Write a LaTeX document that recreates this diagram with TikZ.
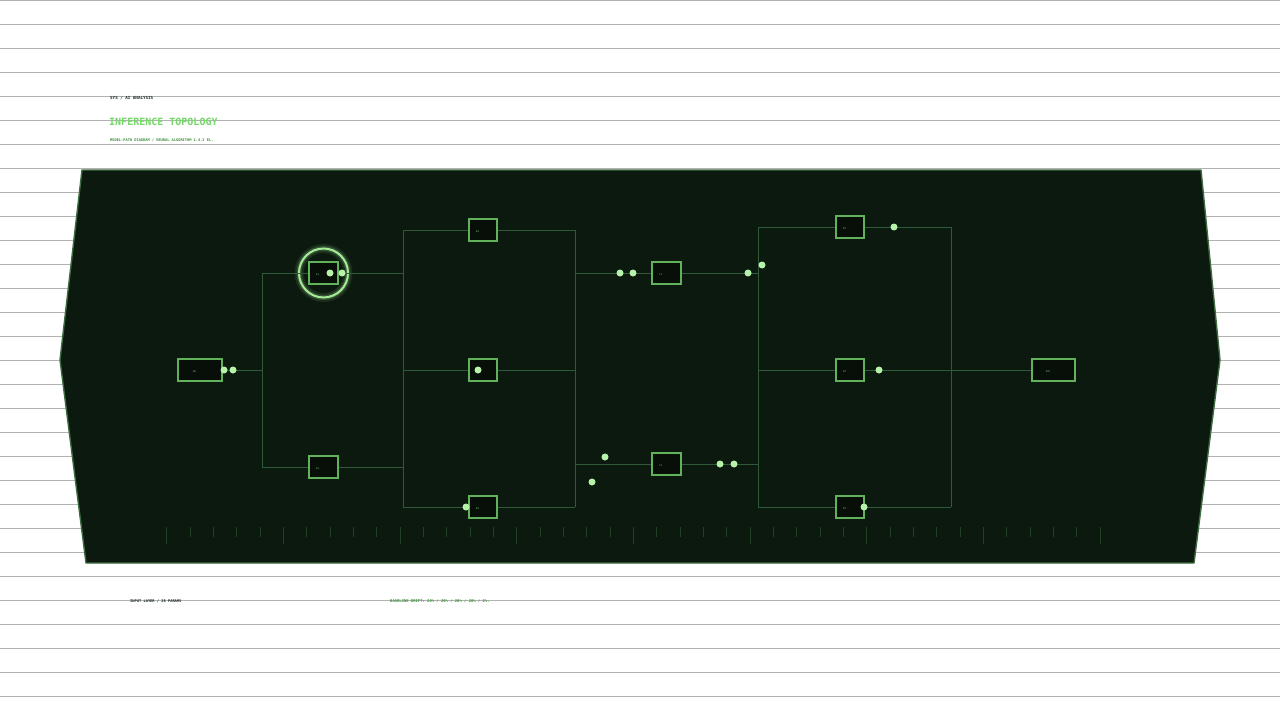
\documentclass[tikz,border=0pt]{standalone}
\usepackage{fontspec}
\setmonofont{DejaVu Sans Mono}
\begin{document}
\begin{tikzpicture}[x=1pt,y=-1pt,
  gridline/.style={draw=black!30,line width=0.9pt},
  panel/.style={fill=panelbg,draw=panelbd,line width=1.4pt,line join=round},
  wire/.style={draw=wirec,line width=0.9pt},
  tick/.style={draw=tickc,line width=0.8pt},
  nbox/.style={draw=boxbd,fill=boxbg,line width=1.1pt,rectangle,inner sep=0pt,minimum width=28pt,minimum height=22pt},
  wbox/.style={nbox,minimum width=43pt},
  lbl/.style={text=lblc,font=\ttfamily\fontsize{2.4}{2.6}\selectfont,inner sep=0pt},
  pdot/.style={circle,fill=dotc,inner sep=0pt,minimum size=7pt},
  hdr/.style={anchor=west,inner sep=0pt,font=\ttfamily\bfseries\fontsize{4.2}{5}\selectfont,text=hdrc},
  sub/.style={anchor=west,inner sep=0pt,font=\ttfamily\bfseries\fontsize{3.65}{4.5}\selectfont,text=subc},
]
\definecolor{panelbg}{HTML}{0C190F}
\definecolor{panelbd}{HTML}{3D6C41}
\definecolor{wirec}{HTML}{30593A}
\definecolor{tickc}{HTML}{233F28}
\definecolor{boxbd}{HTML}{62B25C}
\definecolor{boxbg}{HTML}{080F09}
\definecolor{lblc}{HTML}{7FC47A}
\definecolor{dotc}{HTML}{B6F2A8}
\definecolor{glowc}{HTML}{A6EC98}
\definecolor{hdrc}{HTML}{1C2B1E}
\definecolor{subc}{HTML}{3F8F3C}
\definecolor{titc}{HTML}{74D866}

\useasboundingbox (0,0) rectangle (1280,720);
\fill[white] (0,0) rectangle (1280,720);
\foreach \k in {0,...,29} { \draw[gridline] (0,24*\k) -- (1280,24*\k); }

% header / footer texts
\node[hdr] (h1) at (110,98) {SYS / AI ANALYSIS};
\node[anchor=west,inner sep=0pt,font=\ttfamily\bfseries\fontsize{10}{12}\selectfont,text=titc,draw=none] (h2) at (109,121.5) {INFERENCE TOPOLOGY};
\node[sub] (h3) at (110,140) {MODEL-PATH DIAGRAM / NEURAL ALGORITHM 1.4.2 EL.};
\node[hdr,font=\ttfamily\bfseries\fontsize{3.7}{4.5}\selectfont] (f1) at (130,601.5) {INPUT LAYER / 28 PARAMS};
\node[sub,font=\ttfamily\bfseries\fontsize{3.84}{4.5}\selectfont] (f2) at (390,601.5) {BASELINE DRIFT: 20\% / 20\% / 20\% / 20\% / 2\%.};

% panel
\draw[panel] (82,170) -- (1201,170) -- (1220,360) -- (1194,563) -- (86,563) -- (60,360) -- cycle;

% ruler ticks
\foreach \i in {0,...,40} {
  \pgfmathtruncatemacro{\m}{mod(\i,5)}
  \ifnum\m=0
    \draw[tick] (166.7+23.333*\i,527) -- (166.7+23.333*\i,544);
  \else
    \draw[tick] (166.7+23.333*\i,527) -- (166.7+23.333*\i,537);
  \fi
}

% glow ring around A1
\draw[glowc,opacity=0.10,line width=9pt] (323.5,273) circle (24.5);
\draw[glowc,opacity=0.20,line width=5pt] (323.5,273) circle (24.5);
\draw[glowc,line width=2pt] (323.5,273) circle (24.5);

% nodes
\node[wbox,minimum width=44pt] (in) at (200,370) {};
\node[nbox,minimum width=29pt] (a1) at (323.5,273) {};
\node[nbox,minimum width=29pt] (a2) at (323.5,467) {};
\node[nbox] (b1) at (483,230) {};
\node[nbox] (b2) at (483,370) {};
\node[nbox] (b3) at (483,507) {};
\node[nbox,minimum width=29pt] (c1) at (666.5,273) {};
\node[nbox,minimum width=29pt] (c2) at (666.5,464) {};
\node[nbox] (d1) at (850,227) {};
\node[nbox] (d2) at (850,370) {};
\node[nbox] (d3) at (850,507) {};
\node[wbox] (out) at (1053.5,370) {};

% tiny labels
\node[lbl] (lin) at (194,372) {IN};
\node[lbl] (la1) at (317.5,275) {A1};
\node[lbl] (la2) at (317.5,469) {A2};
\node[lbl] (lb1) at (477.5,232) {B1};
\node[lbl] (lb2) at (477.5,372) {B2};
\node[lbl] (lb3) at (477.5,509) {B3};
\node[lbl] (lc1) at (660.5,275) {C1};
\node[lbl] (lc2) at (660.5,466) {C2};
\node[lbl] (ld1) at (844.5,229) {D1};
\node[lbl] (ld2) at (844.5,372) {D2};
\node[lbl] (ld3) at (844.5,509) {D3};
\node[lbl] (lout) at (1048,372) {OUT};

% junction coordinates
\coordinate (j0) at (262,370);
\coordinate (j1) at (262,273);
\coordinate (j2) at (262,467);
\coordinate (k0) at (403,370);
\coordinate (k1) at (403,230);
\coordinate (k2) at (403,507);
\coordinate (k3) at (403,273);
\coordinate (k4) at (403,467);
\coordinate (m0) at (575,370);
\coordinate (m1) at (575,230);
\coordinate (m2) at (575,507);
\coordinate (m3) at (575,273);
\coordinate (m4) at (575,464);
\coordinate (n0) at (758,370);
\coordinate (n1) at (758,227);
\coordinate (n2) at (758,507);
\coordinate (n3) at (758,273);
\coordinate (n4) at (758,464);
\coordinate (p0) at (951,370);
\coordinate (p1) at (951,227);
\coordinate (p2) at (951,507);

% wires
\draw[wire] (in) -- (j0);
\draw[wire] (j1) -- (j2);
\draw[wire] (j1) -- (a1);
\draw[wire] (j2) -- (a2);
\draw[wire] (a1) -- (k3);
\draw[wire] (a2) -- (k4);
\draw[wire] (k1) -- (k2);
\draw[wire] (k1) -- (b1);
\draw[wire] (k0) -- (b2);
\draw[wire] (k2) -- (b3);
\draw[wire] (b1) -- (m1);
\draw[wire] (b2) -- (m0);
\draw[wire] (b3) -- (m2);
\draw[wire] (m1) -- (m2);
\draw[wire] (m3) -- (c1);
\draw[wire] (m4) -- (c2);
\draw[wire] (c1) -- (n3);
\draw[wire] (c2) -- (n4);
\draw[wire] (n1) -- (n2);
\draw[wire] (n1) -- (d1);
\draw[wire] (n0) -- (d2);
\draw[wire] (n2) -- (d3);
\draw[wire] (d1) -- (p1);
\draw[wire] (d2) -- (p0);
\draw[wire] (d3) -- (p2);
\draw[wire] (p1) -- (p2);
\draw[wire] (p0) -- (out);

% signal packets
\node[pdot] (s1) at (224,370) {};
\node[pdot] (s2) at (233,370) {};
\node[pdot] (s3) at (330,273) {};
\node[pdot] (s4) at (342,273) {};
\node[pdot] (s5) at (478,370) {};
\node[pdot] (s6) at (466,507) {};
\node[pdot] (s7) at (620,273) {};
\node[pdot] (s8) at (633,273) {};
\node[pdot] (s9) at (748,273) {};
\node[pdot] (s10) at (762,265) {};
\node[pdot] (s11) at (605,457) {};
\node[pdot] (s12) at (592,482) {};
\node[pdot] (s13) at (720,464) {};
\node[pdot] (s14) at (734,464) {};
\node[pdot] (s15) at (894,227) {};
\node[pdot] (s16) at (879,370) {};
\node[pdot] (s17) at (864,507) {};
\end{tikzpicture}
\end{document}
